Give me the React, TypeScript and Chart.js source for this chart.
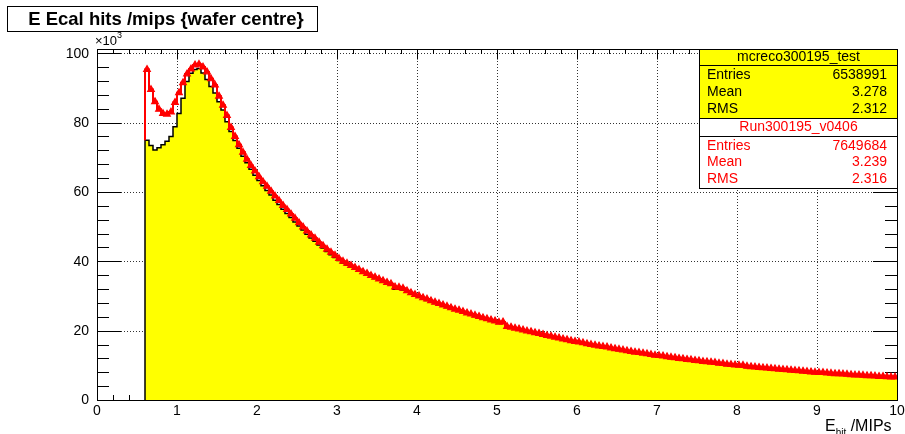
import React, { useEffect, useRef } from "react";
import { Chart, registerables } from "chart.js";

Chart.register(...registerables);

// ---- axis / binning ----
const X_MIN = 0;
const X_MAX = 10;
const Y_MIN = 0;
const Y_MAX = 101.2; // in units of 10^3
const BIN_START = 0.6;
const BIN_WIDTH = 0.05;
const xTickValues = [0, 1, 2, 3, 4, 5, 6, 7, 8, 9, 10];
const xTickLabels = ["0", "1", "2", "3", "4", "5", "6", "7", "8", "9", "10"];
const yTickValues = [0, 20, 40, 60, 80, 100];
const yTickLabels = ["0", "20", "40", "60", "80", "100"];

// ---- series (counts per bin, x10^3), bins from 0.60 in steps of 0.05 ----
const mcCounts = [
  74.9, 73.4, 72.1, 72.7, 73.6, 74.6, 76.0, 78.8,
  82.6, 87.0, 91.8, 94.2, 95.3, 95.6, 94.3, 92.4, 90.4, 88.5, 86.0, 83.6, 80.2, 77.4, 74.8, 72.6, 70.3, 68.4, 66.5, 64.8,
  63.3, 61.8, 60.4, 59.1, 57.6, 56.4, 55.0, 53.8, 52.6, 51.3, 50.2, 49.0, 47.8, 46.7, 45.8, 44.7, 43.8, 42.8, 41.9, 41.1,
  40.2, 39.5, 38.9, 38.3, 37.7, 37.1, 36.6, 36.0, 35.5, 35.0, 34.5, 34.0, 33.5, 33.1, 31.9, 31.9, 31.7, 31.1, 30.5, 30.0,
  29.6, 29.1, 28.7, 28.3, 27.8, 27.5, 27.0, 26.7, 26.3, 25.9, 25.6, 25.2, 24.8, 24.5, 24.1, 23.8, 23.4, 23.1, 22.8, 22.5,
  22.1, 22.2, 20.9, 20.7, 20.4, 20.2, 19.9, 19.6, 19.4, 19.1, 18.9, 18.6, 18.3, 18.1, 17.8, 17.6, 17.3, 17.1, 16.8, 16.6,
  16.4, 16.2, 15.9, 15.7, 15.5, 15.3, 15.1, 14.9, 14.7, 14.5, 14.3, 14.1, 13.9, 13.7, 13.5, 13.4, 13.2, 13.0, 12.8, 12.6,
  12.5, 12.3, 12.2, 12.0, 11.9, 11.7, 11.6, 11.4, 11.3, 11.1, 11.0, 10.8, 10.7, 10.6, 10.4, 10.3, 10.2, 10.0, 9.9, 9.8,
  9.7, 9.6, 9.4, 9.3, 9.2, 9.1, 9.0, 8.9, 8.8, 8.7, 8.6, 8.5, 8.4, 8.3, 8.2, 8.1, 8.0, 7.9, 7.8, 7.7,
  7.6, 7.6, 7.5, 7.4, 7.3, 7.2, 7.2, 7.1, 7.0, 6.9, 6.9, 6.8, 6.7, 6.7, 6.6, 6.5, 6.5, 6.4, 6.3, 6.3,
];

const dataCounts = [
  95.3, 89.5, 86.0, 83.8, 82.6, 82.4, 83.0, 85.8,
  88.6, 91.5, 94.0, 95.4, 96.6, 96.8, 96.0, 94.6, 92.6, 90.8, 87.6, 85.0, 82.0, 78.6, 76.0, 73.6, 71.4, 69.4, 67.6, 66.0,
  64.4, 62.9, 61.6, 60.2, 58.8, 57.5, 56.1, 54.9, 53.6, 52.4, 51.1, 49.9, 48.7, 47.6, 46.6, 45.5, 44.5, 43.5, 42.6, 41.7,
  40.8, 40.0, 39.4, 38.8, 38.2, 37.6, 37.0, 36.5, 35.9, 35.4, 34.9, 34.4, 33.9, 33.5, 32.6, 32.5, 32.2, 31.5, 30.9, 30.4,
  30.0, 29.5, 29.1, 28.6, 28.2, 27.8, 27.4, 27.0, 26.6, 26.2, 25.9, 25.5, 25.1, 24.8, 24.4, 24.1, 23.7, 23.4, 23.1, 22.8,
  22.4, 22.5, 21.2, 21.0, 20.7, 20.5, 20.2, 19.9, 19.7, 19.4, 19.2, 18.9, 18.6, 18.4, 18.1, 17.9, 17.6, 17.4, 17.1, 16.9,
  16.7, 16.5, 16.2, 16.0, 15.8, 15.6, 15.4, 15.3, 15.0, 14.8, 14.6, 14.4, 14.2, 14.0, 13.8, 13.7, 13.5, 13.3, 13.1, 12.9,
  12.8, 12.7, 12.5, 12.3, 12.2, 12.0, 11.9, 11.7, 11.6, 11.4, 11.3, 11.1, 11.0, 10.9, 10.8, 10.6, 10.5, 10.3, 10.2, 10.1,
  10.0, 10.0, 9.7, 9.6, 9.5, 9.4, 9.3, 9.2, 9.1, 9.0, 8.9, 8.8, 8.7, 8.6, 8.5, 8.4, 8.3, 8.2, 8.1, 8.0,
  7.9, 7.9, 7.8, 7.7, 7.6, 7.6, 7.5, 7.4, 7.3, 7.2, 7.2, 7.1, 7.0, 7.0, 6.9, 6.8, 6.8, 6.7, 6.6, 6.6,
];

// ---- texts ----
const TITLE = "E Ecal hits /mips {wafer centre}";
const statLabels = ["Entries", "Mean", "RMS"];
const mcName = "mcreco300195_test";
const mcStats = ["6538991", "3.278", "2.312"];
const dataName = "Run300195_v0406";
const dataStats = ["7649684", "3.239", "2.316"];

const FONT = '"Liberation Sans", Arial, Helvetica, sans-serif';

function stepPoints(vals: number[], startY: number) {
  const pts: { x: number; y: number }[] = [{ x: BIN_START, y: startY }];
  vals.forEach((v, i) => pts.push({ x: BIN_START + i * BIN_WIDTH, y: v }));
  pts.push({ x: BIN_START + vals.length * BIN_WIDTH, y: vals[vals.length - 1] });
  return pts;
}
function centerPoints(vals: number[]) {
  return vals.map((v, i) => ({ x: BIN_START + (i + 0.5) * BIN_WIDTH, y: v }));
}

const rootPlugin = {
  id: "rootStyle",
  beforeDraw(chart: any) {
    const ctx = chart.ctx;
    ctx.save();
    ctx.fillStyle = "#ffffff";
    ctx.fillRect(0, 0, chart.width, chart.height);
    ctx.restore();
  },
  beforeDatasetsDraw(chart: any) {
    const { ctx, chartArea: a, scales } = chart;
    const xs = scales.x;
    const ys = scales.y;
    ctx.save();
    // dotted grid
    ctx.strokeStyle = "#333";
    ctx.lineWidth = 1;
    ctx.setLineDash([1, 2]);
    xTickValues.forEach((v) => {
      if (v <= X_MIN || v >= X_MAX) return;
      const px = Math.round(xs.getPixelForValue(v)) + 0.5;
      ctx.beginPath();
      ctx.moveTo(px, a.top);
      ctx.lineTo(px, a.bottom);
      ctx.stroke();
    });
    yTickValues.forEach((v) => {
      if (v <= Y_MIN) return;
      const py = Math.round(ys.getPixelForValue(v)) + 0.5;
      ctx.beginPath();
      ctx.moveTo(a.left, py);
      ctx.lineTo(a.right, py);
      ctx.stroke();
    });
    ctx.setLineDash([]);
    // ticks
    ctx.strokeStyle = "#000";
    ctx.lineWidth = 1;
    for (let v = 0; v <= 100.001; v += 4) {
      const major = Math.abs(v / 20 - Math.round(v / 20)) < 1e-6;
      const len = major ? 24 : 12;
      const py = Math.round(ys.getPixelForValue(v)) + 0.5;
      ctx.beginPath();
      ctx.moveTo(a.left, py);
      ctx.lineTo(a.left + len, py);
      ctx.moveTo(a.right, py);
      ctx.lineTo(a.right - len, py);
      ctx.stroke();
    }
    for (let i = 0; i <= 50; i++) {
      const v = i * 0.2;
      const major = i % 5 === 0;
      const len = major ? 10.5 : 5;
      const px = Math.round(xs.getPixelForValue(v)) + 0.5;
      ctx.beginPath();
      ctx.moveTo(px, a.bottom);
      ctx.lineTo(px, a.bottom - len);
      ctx.moveTo(px, a.top);
      ctx.lineTo(px, a.top + len);
      ctx.stroke();
    }
    ctx.restore();
  },
  afterDatasetsDraw(chart: any) {
    const { ctx, chartArea: a, scales } = chart;
    const xs = scales.x;
    const ys = scales.y;
    ctx.save();
    // frame
    ctx.strokeStyle = "#000";
    ctx.lineWidth = 1;
    ctx.strokeRect(Math.round(a.left) + 0.5, Math.round(a.top) + 0.5, Math.round(a.right - a.left), Math.round(a.bottom - a.top));

    // tick labels
    ctx.fillStyle = "#000";
    ctx.font = `14px ${FONT}`;
    ctx.textAlign = "right";
    ctx.textBaseline = "middle";
    yTickValues.forEach((v, i) => {
      ctx.fillText(yTickLabels[i], a.left - 8, ys.getPixelForValue(v) + 0.5);
    });
    ctx.textAlign = "center";
    ctx.textBaseline = "middle";
    xTickValues.forEach((v, i) => {
      ctx.fillText(xTickLabels[i], xs.getPixelForValue(v), a.bottom + 11.5);
    });

    // x10^3 exponent
    ctx.textAlign = "left";
    ctx.font = `13px ${FONT}`;
    ctx.fillText("\u00d710", a.left - 2, 41);
    const w10 = ctx.measureText("\u00d710").width;
    ctx.font = `9px ${FONT}`;
    ctx.fillText("3", a.left - 2 + w10, 36);

    // x axis title
    ctx.textBaseline = "alphabetic";
    ctx.textAlign = "left";
    let tx = 825;
    ctx.font = `16px ${FONT}`;
    ctx.fillText("E", tx, 431);
    tx += ctx.measureText("E").width;
    ctx.font = `10px ${FONT}`;
    ctx.fillText("hit", tx, 436);
    tx += ctx.measureText("hit").width;
    ctx.font = `16px ${FONT}`;
    ctx.fillText(" /MIPs", tx, 431);

    // title box
    ctx.fillStyle = "#fff";
    ctx.fillRect(7.5, 6.5, 310, 25);
    ctx.strokeStyle = "#000";
    ctx.strokeRect(7.5, 6.5, 310, 25);
    ctx.fillStyle = "#000";
    ctx.font = `bold 18.5px ${FONT}`;
    ctx.textAlign = "center";
    ctx.textBaseline = "middle";
    ctx.fillText(TITLE, 166, 19.5);

    // stats boxes
    const bx0 = 699.5;
    const bx1 = Math.round(a.right) + 0.5;
    const bcx = (bx0 + bx1) / 2;
    const drawBox = (top: number, bottom: number, sep: number, fill: string, color: string, name: string, vals: string[], headY: number, rowsY: number[]) => {
      ctx.fillStyle = fill;
      ctx.fillRect(bx0, top, bx1 - bx0, bottom - top);
      ctx.strokeStyle = "#000";
      ctx.lineWidth = 1;
      ctx.strokeRect(bx0, top, bx1 - bx0, bottom - top);
      ctx.beginPath();
      ctx.moveTo(bx0, sep);
      ctx.lineTo(bx1, sep);
      ctx.stroke();
      ctx.fillStyle = color;
      ctx.font = `14px ${FONT}`;
      ctx.textBaseline = "middle";
      ctx.textAlign = "center";
      ctx.fillText(name, bcx, headY);
      statLabels.forEach((lab, i) => {
        ctx.textAlign = "left";
        ctx.fillText(lab, 707, rowsY[i]);
        ctx.textAlign = "right";
        ctx.fillText(vals[i], 887, rowsY[i]);
      });
    };
    drawBox(49.5, 118.5, 65.5, "#ffff00", "#000", mcName, mcStats, 57.5, [75.5, 92, 109]);
    drawBox(118.5, 188.5, 136.5, "#ffffff", "#ff0000", dataName, dataStats, 127.5, [146, 162.5, 179.5]);

    ctx.restore();
  },
};

export default function App() {
  const ref = useRef<HTMLCanvasElement | null>(null);
  useEffect(() => {
    if (!ref.current) return;
    const chart = new Chart(ref.current, {
      type: "line",
      data: {
        datasets: [
          {
            label: dataName + " markers",
            data: centerPoints(dataCounts),
            showLine: false,
            pointStyle: "triangle",
            pointRadius: 3.8,
            pointBackgroundColor: "#ff0000",
            pointBorderColor: "#ff0000",
            pointBorderWidth: 1.2,
            order: 0,
          } as any,
          {
            label: dataName,
            data: stepPoints(dataCounts, mcCounts[0]),
            stepped: "before",
            borderColor: "#ff0000",
            borderWidth: 2,
            pointRadius: 0,
            fill: false,
            order: 1,
          } as any,
          {
            label: mcName,
            data: stepPoints(mcCounts, 0),
            stepped: "before",
            borderColor: "#000000",
            borderWidth: 1.5,
            backgroundColor: "#ffff00",
            pointRadius: 0,
            fill: "origin",
            order: 2,
          } as any,
        ],
      },
      options: {
        animation: false,
        responsive: false,
        maintainAspectRatio: false,
        parsing: false as any,
        normalized: true,
        layout: { padding: { left: 97, right: 8, top: 49, bottom: 34 } },
        scales: {
          x: { type: "linear", min: X_MIN, max: X_MAX, display: false },
          y: { type: "linear", min: Y_MIN, max: Y_MAX, display: false },
        },
        plugins: {
          legend: { display: false },
          tooltip: { enabled: false },
          title: { display: false },
        },
      },
      plugins: [rootPlugin],
    });
    return () => chart.destroy();
  }, []);
  return (
    <div style={{ position: "fixed", left: 0, top: 0, width: 905, height: 434, background: "#fff" }}>
      <canvas ref={ref} width={905} height={434} style={{ width: 905, height: 434, display: "block" }} />
    </div>
  );
}
